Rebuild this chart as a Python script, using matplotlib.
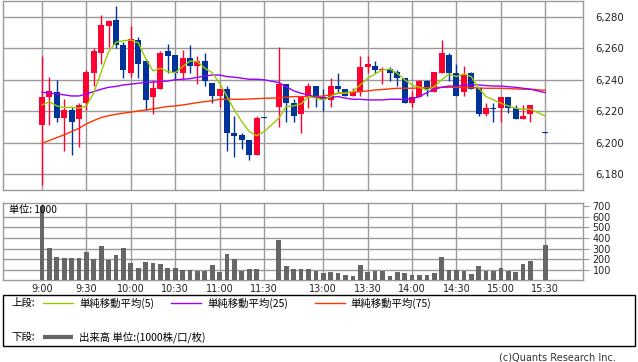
import matplotlib
matplotlib.use("Agg")
import matplotlib.pyplot as plt
import numpy as np
import pandas as pd
from matplotlib.lines import Line2D
from matplotlib.patches import Rectangle

# 5-minute bars, morning + afternoon session (15:25 has no bar)
morning = pd.date_range("2024-01-01 09:00", "2024-01-01 11:30", freq="5min")
afternoon = pd.date_range("2024-01-01 12:30", "2024-01-01 15:20", freq="5min")
bar_times = morning.append(afternoon).append(pd.DatetimeIndex(["2024-01-01 15:30"]))

opens = [6211, 6229, 6232, 6216, 6221, 6215, 6225, 6244, 6257, 6274,
         6278, 6262, 6244, 6265, 6252, 6229, 6234, 6258, 6256, 6244,
         6254, 6249, 6252, 6238, 6230, 6234, 6206, 6205, 6202, 6192,
         6216.6,
         6223, 6237, 6225, 6218, 6229, 6236, 6229, 6227, 6236, 6234,
         6230, 6232, 6248, 6249, 6246, 6247, 6245, 6241, 6225, 6229,
         6239, 6232, 6244, 6256, 6244, 6232, 6244, 6235, 6218, 6222,
         6222, 6229, 6222, 6215, 6218,
         6206.6]
highs = [6255, 6242, 6240, 6228, 6223, 6225, 6246, 6260, 6281, 6278,
         6287, 6264, 6274, 6267, 6253, 6240, 6258, 6263, 6256, 6259,
         6262, 6255, 6257, 6238, 6234, 6236, 6217, 6206, 6202, 6217,
         6216.6,
         6261, 6237, 6228, 6230, 6238, 6236, 6234, 6241, 6244, 6234,
         6235, 6255, 6255, 6252, 6248, 6248, 6246, 6241, 6233, 6240,
         6240, 6245, 6265, 6257, 6250, 6249, 6245, 6235, 6225, 6225,
         6229, 6229, 6224, 6224, 6224,
         6206.6]
lows = [6173, 6211, 6213, 6195, 6192, 6197, 6221, 6236, 6250, 6261,
        6260, 6241, 6242, 6241, 6221, 6218, 6234, 6244, 6240, 6240,
        6244, 6237, 6236, 6225, 6223, 6195, 6191, 6196, 6189, 6192,
        6216,
        6210, 6213, 6213, 6206, 6222, 6223, 6220, 6223, 6232, 6230,
        6230, 6230, 6244, 6244, 6237, 6239, 6236, 6225, 6223, 6229,
        6230, 6232, 6244, 6239, 6230, 6230, 6234, 6217, 6217, 6213,
        6213, 6219, 6215, 6215, 6213,
        6206]
closes = [6229, 6233, 6216, 6221, 6213, 6224, 6245, 6258, 6275, 6277,
          6262, 6246, 6266, 6250, 6227, 6235, 6257, 6255, 6244, 6254,
          6249, 6252, 6239, 6230, 6234, 6206, 6204, 6202, 6192, 6216,
          6216,
          6237, 6225, 6217, 6229, 6236, 6229, 6227, 6236, 6234, 6230,
          6232, 6248, 6250, 6246, 6247, 6244, 6241, 6225, 6229, 6239,
          6234, 6245, 6257, 6244, 6230, 6243, 6234, 6218, 6222, 6221.4,
          6229, 6222, 6215, 6217, 6224,
          6206]

ma5 = [6224, 6226, 6223.4, 6222.3, 6222.5, 6221.9, 6223.4, 6231.8, 6245, 6257.8,
       6263.8, 6264.8, 6265.2, 6263.5, 6253.6, 6245.6, 6247.3, 6245.1, 6244.5, 6248.3,
       6251.9, 6251.5, 6247.3, 6244.5, 6237.8, 6229.3, 6220.8, 6213.4, 6207.1, 6204.5,
       6207,
       6215.6, 6223, 6223.4, 6224.7, 6229.3, 6228.3, 6227.2, 6229.3, 6231.8, 6231.4,
       6232.5, 6236.7, 6240.9, 6243.7, 6246.2, 6246.8, 6244.1, 6240, 6236.7, 6235.2,
       6233.5, 6235.6, 6240, 6243.7, 6242, 6243.7, 6242, 6234.6, 6229.3, 6227.2,
       6225.1, 6223.4, 6221.9, 6221.3, 6221.3,
       6217]
ma25 = [6232.1, 6231.5, 6231, 6230.4, 6229.7, 6229.7, 6231, 6232.5, 6234, 6235.2,
        6235.8, 6236.7, 6237.2, 6237.8, 6238.3, 6238.5, 6238.8, 6239.2, 6240, 6240.3,
        6240.7, 6241.5, 6242.4, 6243, 6243, 6242, 6241.6, 6241, 6240.3, 6240.3,
        6240,
        6238.2, 6235.6, 6233, 6231.4, 6230.4, 6228.9, 6228.3, 6228.9, 6229.3, 6228.3,
        6227.6, 6227.6, 6227.2, 6227.2, 6227.2, 6227.6, 6227.6, 6227.6, 6228, 6229.3,
        6231.8, 6234, 6235.2, 6236, 6236, 6236.5, 6236.7, 6236.7, 6236.3, 6236,
        6236, 6235.6, 6235.2, 6234.6, 6234,
        6231.8]
ma75 = [6199.7, 6201.4, 6203.3, 6205, 6207.1, 6209.2, 6212, 6214.1, 6216, 6217.2,
        6218.1, 6218.8, 6219.4, 6220.2, 6220.8, 6221.5, 6222.3, 6223, 6223.4, 6224,
        6224.7, 6225.5, 6226.1, 6226.7, 6227.6, 6227.6, 6227.6, 6227.6, 6227.8, 6228,
        6228.2,
        6228.5, 6228.9, 6229.3, 6229.3, 6229.3, 6229.3, 6229.7, 6230.4, 6231.4, 6231.8,
        6232.1, 6232.5, 6232.9, 6233.5, 6233.8, 6234.2, 6234.6, 6234.6, 6234.6, 6234.8,
        6235, 6235, 6235.2, 6235.2, 6235.2, 6235, 6235, 6234.8, 6234.6, 6234.6,
        6234.6, 6234.4, 6234.2, 6234, 6234,
        6233.3]

volume = [700, 302, 223, 214, 214, 214, 270, 201, 327, 195,
          239, 302, 164, 120, 176, 164, 154, 120, 120, 94,
          94, 88, 88, 145, 79, 248, 201, 88, 107, 107,
          3,
          380, 138, 107, 107, 107, 90, 72, 82, 66, 50,
          44, 145, 82, 88, 88, 44, 82, 72, 50, 50,
          50, 69, 220, 94, 94, 88, 60, 135, 88, 88,
          116, 88, 79, 154, 182,
          333]

tick_labels = ["9:00", "9:30", "10:00", "10:30", "11:00", "11:30",
               "13:00", "13:30", "14:00", "14:30", "15:00", "15:30"]
price_ticks = [6180, 6200, 6220, 6240, 6260, 6280]
vol_ticks = [100, 200, 300, 400, 500, 600, 700]

UP = "#ff0033"
DOWN = "#003399"
GRID = "#999999"
CJK = ["Noto Sans CJK JP", "DejaVu Sans"]


def slot(t):
    # lunch break squeezed down to one empty slot
    m = t.hour * 60 + t.minute - 540
    if t.hour >= 12:
        m -= 50
    return m / 5


x = np.array([slot(t) for t in bar_times])
tick_x = [slot(pd.Timestamp("2024-01-01 " + s)) for s in tick_labels]

o = np.array(opens)
c = np.array(closes)
colors = [UP if cc > oo else DOWN for oo, cc in zip(o, c)]

fig = plt.figure(figsize=(6.38, 3.62), dpi=100)
ax = fig.add_axes([3 / 638, 1 - 190 / 362, 580 / 638, 189 / 362])
axv = fig.add_axes([3 / 638, 1 - 280.3 / 362, 580 / 638, 77.3 / 362])

xlim = (-5.27, 73.1)

# price panel
ax.vlines(x, lows, highs, colors=colors, linewidth=1.0, zorder=3)
body = np.maximum(np.abs(c - o), 0.6)
ax.bar(x, body, bottom=np.minimum(o, c), width=0.8, color=colors, linewidth=0, zorder=3)
ax.plot(x, ma75, color="#ff3300", linewidth=1.0, zorder=4)
ax.plot(x, ma25, color="#9900ff", linewidth=1.0, zorder=4)
ax.plot(x, ma5, color="#99cc00", linewidth=1.0, zorder=5)

ax.set_xlim(*xlim)
ax.set_ylim(6170, 6290)
ax.set_xticks(tick_x)
ax.set_yticks(price_ticks)
ax.set_yticklabels([f"{v:,}" for v in price_ticks])
ax.yaxis.tick_right()
ax.tick_params(axis="y", length=0, pad=9, labelsize=7.3, labelcolor="#222222")
ax.tick_params(axis="x", length=0, labelbottom=False)
ax.grid(True, color=GRID, linewidth=1.0, zorder=0)
ax.set_axisbelow(True)
for s in ax.spines.values():
    s.set_color(GRID)
    s.set_linewidth(1.0)

# volume panel
axv.bar(x, volume, width=0.63, color="#666666", linewidth=0, zorder=3)
axv.set_xlim(*xlim)
axv.set_ylim(0, 730)
axv.set_xticks(tick_x)
axv.set_xticklabels(tick_labels)
axv.set_yticks(vol_ticks)
axv.yaxis.tick_right()
axv.tick_params(axis="y", length=4, pad=3, labelsize=6.9, color=GRID, labelcolor="#222222")
axv.tick_params(axis="x", length=0, pad=2.5, labelsize=7, labelcolor="#222222")
axv.xaxis.grid(True, color=GRID, linewidth=1.0, zorder=0)
for v in vol_ticks[:-1]:
    axv.axhline(v, color=GRID, linewidth=1.0, zorder=0)
axv.set_axisbelow(True)
for s in axv.spines.values():
    s.set_color(GRID)
    s.set_linewidth(1.0)
axv.text(9 / 638, 1 - 210 / 362, "単位: 1000", transform=fig.transFigure,
         family=CJK, fontsize=7.3, va="center", ha="left", zorder=6)

# legend box
fig.patches.append(Rectangle((3 / 638, 1 - 346 / 362), 632 / 638, 51 / 362,
                             transform=fig.transFigure, fill=False,
                             edgecolor="black", linewidth=1.0))


def fx(px):
    return px / 638


def fy(py):
    return 1 - py / 362


fig.text(fx(11), fy(303), "上段:", family=CJK, fontsize=7.5, va="center")
fig.text(fx(11), fy(337), "下段:", family=CJK, fontsize=7.5, va="center")
legend_items = [(43, 79, "#99cc00", "単純移動平均(5)"),
                (171, 207, "#9900ff", "単純移動平均(25)"),
                (315, 350, "#ff3300", "単純移動平均(75)")]
for x0, tx, col, label in legend_items:
    fig.add_artist(Line2D([fx(x0), fx(x0 + 30)], [fy(303), fy(303)],
                          transform=fig.transFigure, color=col, linewidth=1.0))
    fig.text(fx(tx), fy(303), label, family=CJK, fontsize=7.5, va="center")
fig.add_artist(Line2D([fx(43), fx(73)], [fy(337), fy(337)],
                      transform=fig.transFigure, color="#666666", linewidth=3.0,
                      solid_capstyle="butt"))
fig.text(fx(79), fy(337), "出来高 単位:(1000株/口/枚)", family=CJK, fontsize=7.5, va="center")

fig.text(fx(616), fy(357), "(c)Quants Research Inc.", fontsize=7, ha="right",
         va="center", color="#333333")

fig.savefig("out.png", dpi=100)
